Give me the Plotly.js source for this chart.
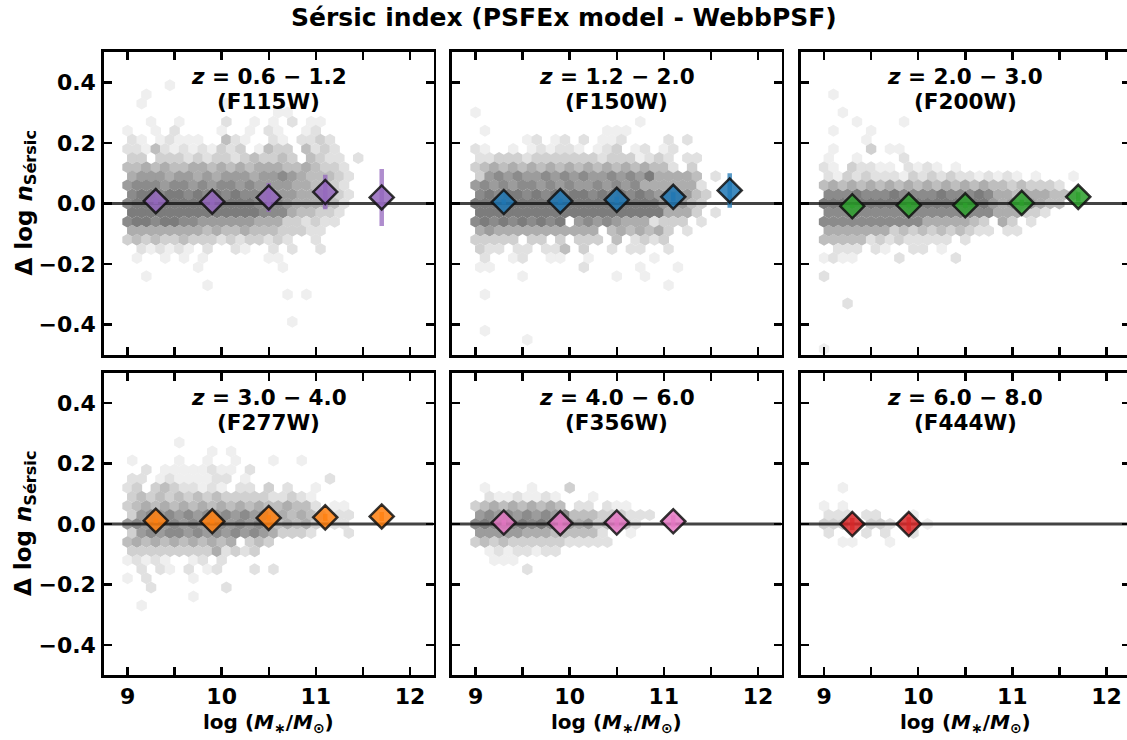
<!DOCTYPE html>
<html><head><meta charset="utf-8">
<script src="https://cdn.plot.ly/plotly-3.0.1.min.js"></script>
<style>html,body{margin:0;padding:0;overflow:hidden;background:#fff}#chart{width:1131px;height:740px}</style>
</head><body><div id="chart"></div><script>
// ---------------- data ----------------
const panelRedshift = ['<i>z</i> = 0.6 − 1.2','<i>z</i> = 1.2 − 2.0','<i>z</i> = 2.0 − 3.0','<i>z</i> = 3.0 − 4.0','<i>z</i> = 4.0 − 6.0','<i>z</i> = 6.0 − 8.0'];
const panelFilter = ['(F115W)','(F150W)','(F200W)','(F277W)','(F356W)','(F444W)'];
const panelColor = ['#9467bd','#1f77b4','#2ca02c','#ff7f0e','#e377c2','#d62728'];

const binMass = [9.3, 9.9, 10.5, 11.1, 11.7];
const med_F115W = [0.008, 0.006, 0.020, 0.038, 0.020];
const err_F115W = [0.010, 0.012, 0.048, 0.057, 0.094];
const med_F150W = [0.005, 0.008, 0.012, 0.022, 0.043];
const err_F150W = [0.008, 0.008, 0.010, 0.015, 0.057];
const med_F200W = [-0.009, -0.006, -0.006, 0.002, 0.022];
const err_F200W = [0.006, 0.006, 0.008, 0.010, 0.015];
const med_F277W = [0.011, 0.009, 0.020, 0.022, 0.025];
const err_F277W = [0.008, 0.008, 0.010, 0.012, 0.015];
const med_F356W = [0.005, 0.003, 0.005, 0.009];
const err_F356W = [0.010, 0.012, 0.015, 0.020];
const med_F444W = [0.000, 0.000];
const err_F444W = [0.020, 0.022];

// hexbin density (grey level 1-9, '.' empty); rows from k=13 (top) downward, row k at y = 0.03*k
const hex_F115W = [
"....1","..1",".1........1","................11","..1..1....2..1.1.2.11","1..1.2....1..1.21..12",
"21.12111..421..21.2232","2214212121323.1433.4232","33.333232332343343.4322.2",
"445454455454545554454332","566656656566656676544432","677767767677676666554332",
"788788787878777666555432","788888888888887776555542","88888888888888777544332",
"78878877666666555332322","555555554544544433322","343433433323233232..2",
".212121.2..21..2.2..2",".1..1.1.1......11",".......1........1","..1","........1",
".................1.1","","",".................1","","",""];
const hex_F150W = [
"","","","1",".................1",".1............111",
".....12.12.2.112....2.2","21..1.121221.123.12.12","223332333333323331232.22",
"3454545454545454545442.3","367676676767667676855554.2","6767677676766767675555552",
"7878878787887878787666643","8888888888888888888866643","888888888888888888885553.2",
"7878787878.676765552333.2","5655555555555.4545453.2","33333.33.3.333.4.2323",
"322.22.224.3..2.22..2",".2..12..11..1......1","11.........2.....1...1",".....1.........1..1",
"....................1",".1","","","",".1",".....1",""];
const hex_F200W = [
"",".1","","..1","...1....1",".1...1","....1",".1...3.11","1..1....2",
"21.32211.2121.1","213232221323232212121.1...1","45454545454545454544343332",
"7778777877778777875545554441","88888888888888888865656544","777777777777777777555332",
"777777777775555543.53.2","555555534343434322.22","44444232322222.2",".222.21..22.1","1211....2.....2",
"","2","","","..2","","","","","1"];
const hex_F277W = [
"","","","",".....1",".........1.1","1....1..1..1...1..1","..2.11111211.2",
"22.12111122.1........2","23.34322121.22.3.2..1","34343434343333322321","345454545454545445442.11",
"367676767676767454543.22","676767676776767545453222","36767767676767653332...2",
"454545454545.343","33333333352323","12121..12.2",".2.21.2.12...2.2","1.2....1","..2.......2",
".......1",".1","","","","","","",""];
const hex_F356W = [
"","","","","","","","","",".1....1...3",".21121121...1","3454545454.22.211",
"6767676767444333222","787878787565634342","66666555444442..1","343433333322222",
".12122122","..111",".....2","","","","","","","","","","",""];
const hex_F444W = [
"","","","","","","","","","..1","","1.1","222.22...1","333..332...1","2...2.2..2","..11...1",
"","","","","","","","","","","","","",""];

const HEX_KTOP = 13, HEX_X0 = 9.0, HEX_DX = 0.1, HEX_DY = 0.03;
const greyLevels = ['', '#efefef', '#e1e1e1', '#d0d0d0', '#bebebe', '#adadad', '#9c9c9c', '#8b8b8b', '#7c7c7c', '#6d6d6d'];

const xRange = [8.75, 12.25];
const yRange = [-0.5, 0.5];
const xTicks = [9, 10, 11, 12];
const xTickText = ['9', '10', '11', '12'];
const xMinorTicks = [9.5, 10.5, 11.5];
const yTicks = [-0.4, -0.2, 0, 0.2, 0.4];
const yTickText = ['−0.4', '−0.2', '0.0', '0.2', '0.4'];

const hexGrids = [hex_F115W, hex_F150W, hex_F200W, hex_F277W, hex_F356W, hex_F444W];
const meds = [med_F115W, med_F150W, med_F200W, med_F277W, med_F356W, med_F444W];
const errs = [err_F115W, err_F150W, err_F200W, err_F277W, err_F356W, err_F444W];

// ---------------- layout geometry ----------------
const W = 1131, H = 740;
const colPx = [[104, 433.5], [452, 781.5], [800.5, 1130]];
const rowPx = [[52, 355], [373, 675]];
const FONT = 'DejaVu Sans';
const f = (s) => ({family: FONT, size: s, color: '#000', weight: 'bold'});

function rgba(hex, a) {
  const n = parseInt(hex.slice(1), 16);
  return `rgba(${(n >> 16) & 255},${(n >> 8) & 255},${n & 255},${a})`;
}

const traces = [];
const layout = {
  width: W, height: H, margin: {l: 0, r: 0, t: 0, b: 0},
  paper_bgcolor: '#fff', plot_bgcolor: '#fff', showlegend: false,
  font: f(20), annotations: []
};

for (let p = 0; p < 6; p++) {
  const n = p + 1, sfx = n === 1 ? '' : String(n);
  const col = p % 3, row = Math.floor(p / 3);
  const xa = 'x' + sfx, ya = 'y' + sfx;
  // hexbin
  const hx = [], hy = [], hc = [];
  hexGrids[p].forEach((line, r) => {
    const k = HEX_KTOP - r;
    const off = (k % 2 !== 0) ? HEX_DX / 2 : 0;
    for (let i = 0; i < line.length; i++) {
      const c = line[i];
      if (c === '.' || c === ' ') continue;
      hx.push(HEX_X0 + off + i * HEX_DX); hy.push(k * HEX_DY); hc.push(greyLevels[+c]);
    }
  });
  traces.push({type: 'scatter', mode: 'markers', x: hx, y: hy, xaxis: xa, yaxis: ya,
    marker: {symbol: 'hexagon', size: 12, color: hc, line: {width: 0}}, hoverinfo: 'skip'});
  // zero line
  traces.push({type: 'scatter', mode: 'lines', x: xRange, y: [0, 0], xaxis: xa, yaxis: ya,
    line: {color: 'rgba(20,20,20,0.8)', width: 3}, hoverinfo: 'skip'});
  // medians
  const m = meds[p];
  traces.push({type: 'scatter', mode: 'markers', x: binMass.slice(0, m.length), y: m, xaxis: xa, yaxis: ya,
    error_y: {type: 'data', array: errs[p], visible: true, color: rgba(panelColor[p], 0.75), thickness: 4.5, width: 0},
    marker: {symbol: 'diamond', size: 18.5, color: rgba(panelColor[p], 0.85), line: {color: 'rgba(17,17,17,0.85)', width: 2.5}},
    hoverinfo: 'skip'});

  const dx = colPx[col].map(v => v / W);
  const dy = [1 - rowPx[row][1] / H, 1 - rowPx[row][0] / H];
  layout['xaxis' + sfx] = {domain: dx, range: xRange, anchor: ya, tickvals: xTicks, ticktext: xTickText,
    showticklabels: row === 1, ticks: 'inside', ticklen: 8, tickwidth: 2.5, tickcolor: '#000',
    minor: {tickvals: xMinorTicks, ticks: 'inside', ticklen: 8, tickwidth: 2.5, tickcolor: '#000', showgrid: false},
    showline: true, linewidth: 2.7, linecolor: '#000', mirror: 'ticks', showgrid: false, zeroline: false,
    tickfont: f(22), ticklabelstandoff: 0, fixedrange: true};
  layout['yaxis' + sfx] = {domain: dy, range: yRange, anchor: xa, tickvals: yTicks, ticktext: yTickText,
    showticklabels: col === 0, ticks: 'inside', ticklen: 8, tickwidth: 2.5, tickcolor: '#000',
    showline: true, linewidth: 2.7, linecolor: '#000', mirror: 'ticks', showgrid: false, zeroline: false,
    tickfont: f(22), ticklabelstandoff: 1, fixedrange: true};

  layout.annotations.push({xref: xa + ' domain', yref: ya + ' domain', x: 0.5, y: 1 - 25 / 303, xanchor: 'center', yanchor: 'middle',
    text: panelRedshift[p], showarrow: false, font: f(21.5)});
  layout.annotations.push({xref: xa + ' domain', yref: ya + ' domain', x: 0.5, y: 1 - 50 / 303, xanchor: 'center', yanchor: 'middle',
    text: panelFilter[p], showarrow: false, font: f(21.5)});
  if (row === 1) {
    layout.annotations.push({xref: 'paper', yref: 'paper', x: (colPx[col][0] + colPx[col][1]) / 2 / W, y: 1 - 723 / H,
      xanchor: 'center', yanchor: 'middle', showarrow: false,
      text: 'log (<i>M</i><sub>∗</sub>/<i>M</i><sub>⊙</sub>)', font: f(20)});
  }
  if (col === 0) {
    layout.annotations.push({xref: 'paper', yref: 'paper', x: 25 / W, y: 1 - (rowPx[row][0] + rowPx[row][1]) / 2 / H,
      xanchor: 'center', yanchor: 'middle', textangle: -90, showarrow: false,
      text: 'Δ log <i>n</i><sub>Sérsic</sub>', font: f(23)});
  }
}
layout.annotations.push({xref: 'paper', yref: 'paper', x: 563.5 / W, y: 1 - 18 / H, xanchor: 'center', yanchor: 'middle',
  showarrow: false, text: 'Sérsic index (PSFEx model - WebbPSF)', font: f(25)});

Plotly.newPlot('chart', traces, layout, {staticPlot: true, displayModeBar: false});
</script></body></html>
